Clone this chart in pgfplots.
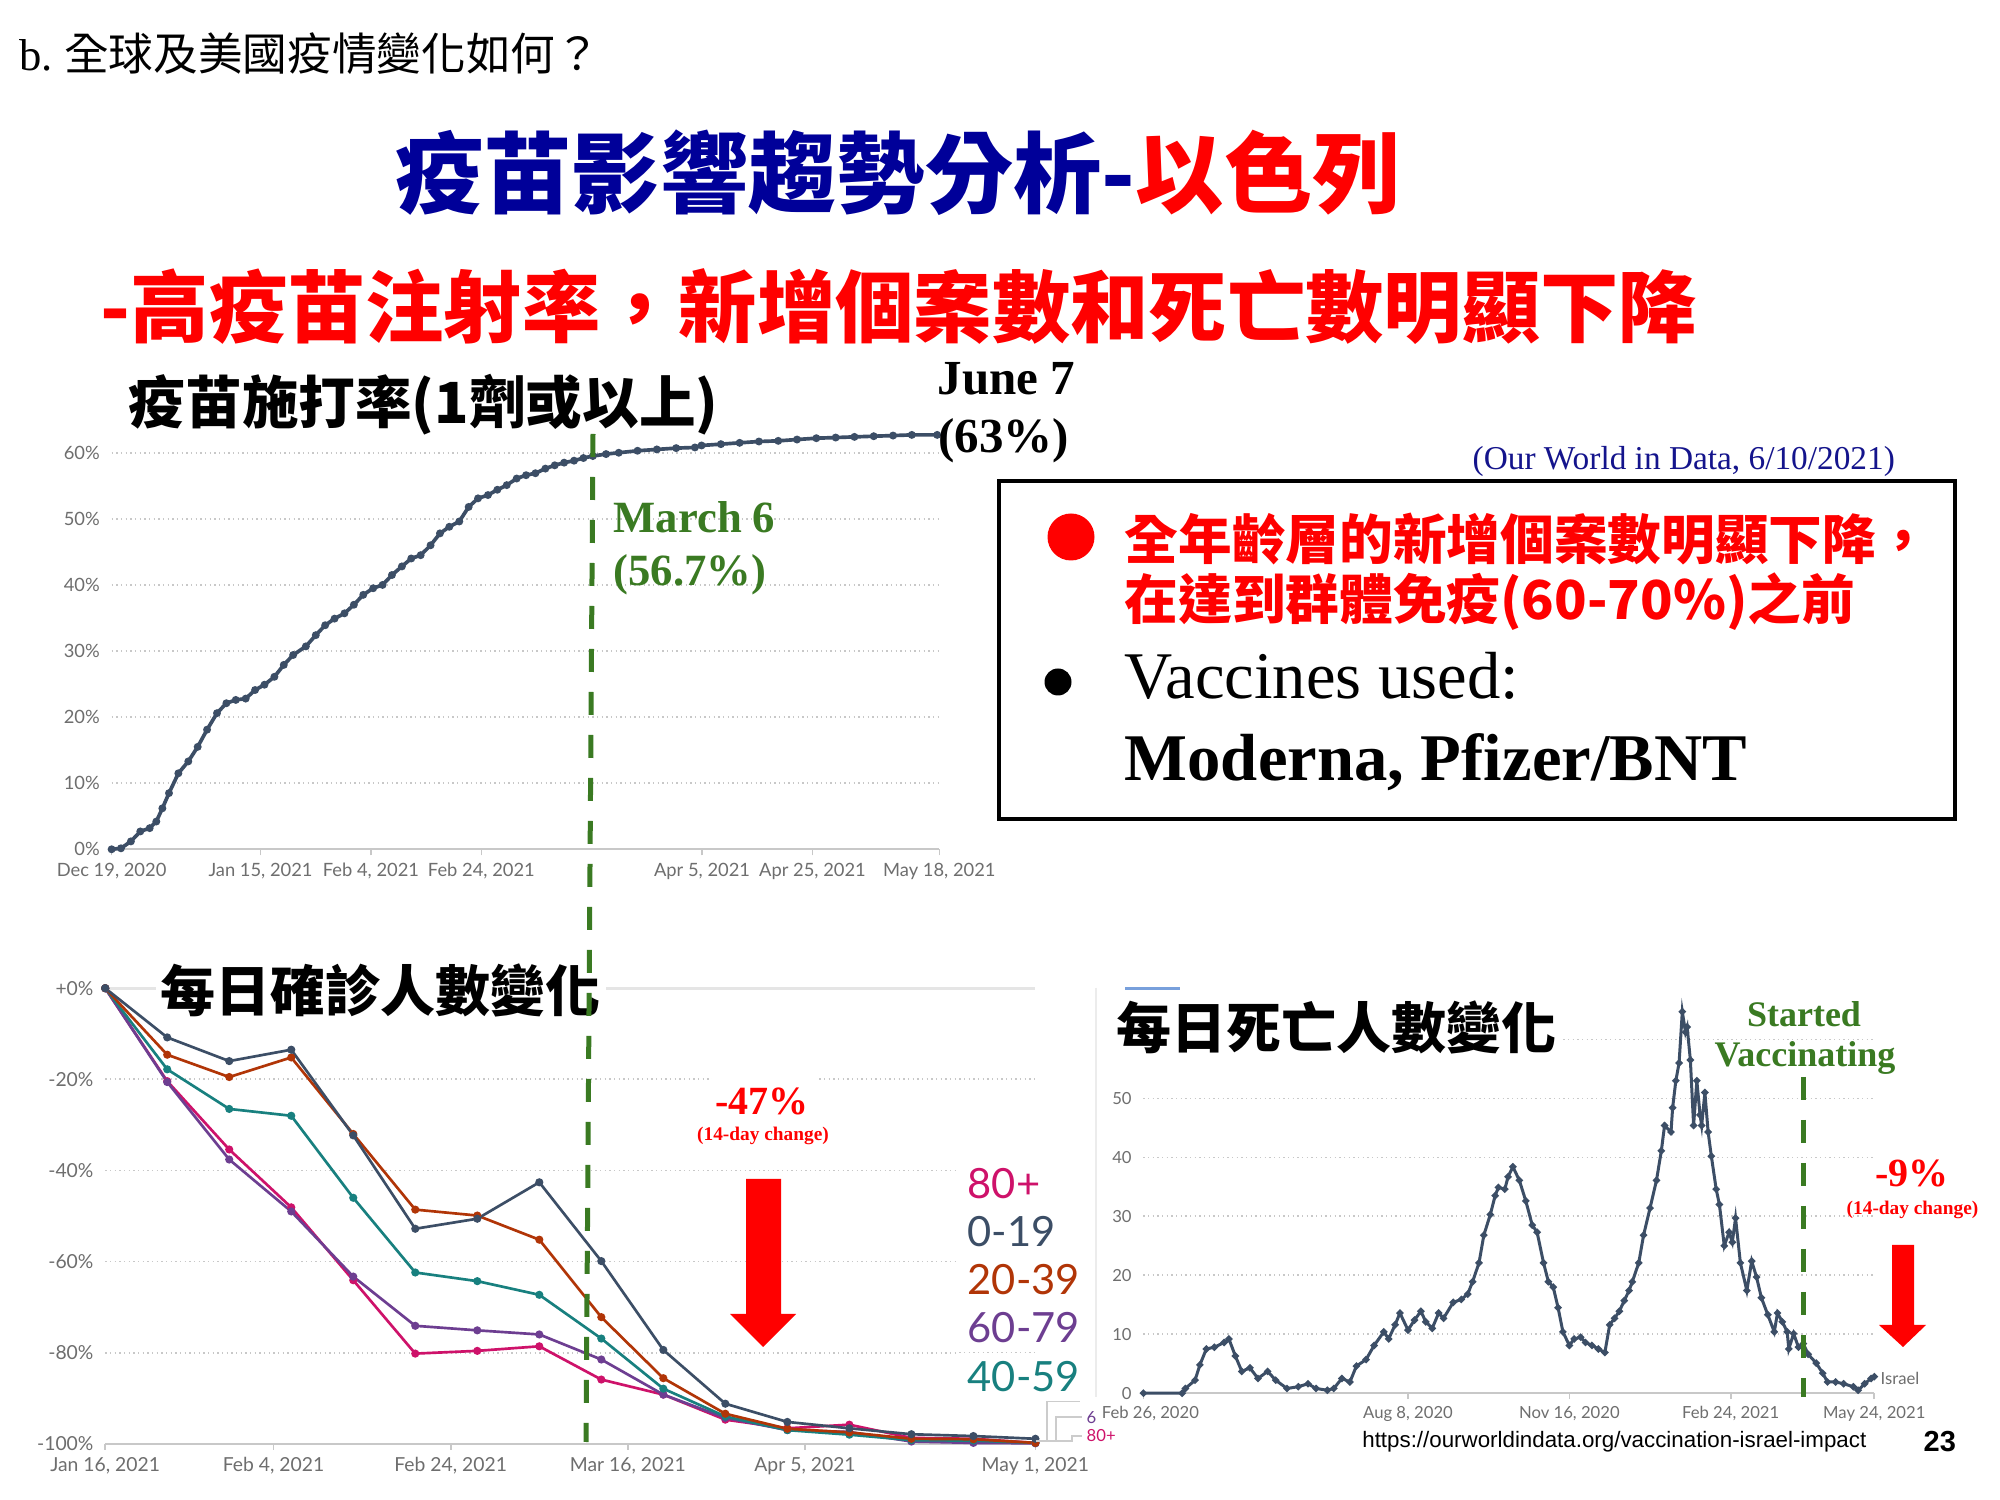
\documentclass[border=0pt]{standalone}
\usepackage{pgfplots}
\pgfplotsset{compat=1.18}
\usepackage{pgfplotstable}
\usepackage{fontspec}
\setmainfont{Liberation Serif}
\newfontfamily\cjk{Noto Sans CJK TC}
\newfontfamily\lato{Lato}
\newfontfamily\arial{Liberation Sans}
\definecolor{slate}{RGB}{60,78,102}
\definecolor{ageA}{RGB}{60,78,102}
\definecolor{ageB}{RGB}{177,53,7}
\definecolor{ageC}{RGB}{24,128,127}
\definecolor{ageD}{RGB}{109,62,145}
\definecolor{ageE}{RGB}{206,18,106}
\definecolor{vgreen}{RGB}{58,122,34}
\definecolor{tblue}{RGB}{0,0,153}
\definecolor{nblue}{RGB}{20,20,140}
\definecolor{lblgray}{RGB}{110,110,110}
\definecolor{gridgray}{RGB}{200,200,200}
\definecolor{legblue}{RGB}{120,160,220}
\pgfplotsset{owid/.style={scale only axis, axis line style={draw=none}, tick pos=left,
  ytick style={draw=none}, xtick style={draw=gridgray, line width=0.5pt}, xtick align=outside,
  major tick length=1.8pt, ymajorgrids, grid style={densely dotted, gridgray, line width=0.5pt},
  clip=false, tick label style={text=lblgray}, xticklabel style={yshift=1.3pt}}}
\pgfplotstableread{
day a019 a2039 a4059 a6079 a80
0 0 0 0 0 0
7 -10.8 -14.6 -17.8 -20.6 -20.4
14 -16 -19.5 -26.5 -37.6 -35.4
21 -13.5 -15.2 -28 -49 -48.1
28 -32.3 -32 -46 -63.3 -64.1
35 -52.8 -48.6 -62.4 -74.1 -80.2
42 -50.6 -49.9 -64.3 -75.1 -79.6
49 -42.6 -55.2 -67.3 -76 -78.6
56 -59.9 -72.2 -76.9 -81.5 -85.9
63 -79.4 -85.6 -87.9 -89.2 -89.2
70 -91.2 -93.4 -94 -94.3 -94.7
77 -95.2 -96.7 -97 -97 -96.6
84 -96.6 -97.5 -98 -97.4 -95.8
91 -97.9 -98.9 -99.2 -99.5 -98.7
98 -98.3 -99 -99.3 -99.8 -98.9
105 -98.9 -99.8 -99.8 -99.9 -99.8
}\agedata
\begin{document}
\begin{tikzpicture}
\fill[white] (0,0) rectangle (600pt,450pt);
% ---------- top chart: vaccination
\begin{axis}[owid, at={(33.48pt,195.21pt)}, anchor=south west, width=248.34pt, height=126.9pt,
  xmin=0, xmax=150, ymin=0, ymax=64,
  xtick={0,27,47,67,107,127,150},
  xticklabels={{Dec 19, 2020},{Jan 15, 2021},{Feb 4, 2021},{Feb 24, 2021},{Apr 5, 2021},{Apr 25, 2021},{May 18, 2021}},
  ytick={0,10,...,60}, yticklabels={0\%,10\%,20\%,30\%,40\%,50\%,60\%},
  tick label style={font=\lato\fontsize{5.5}{6.6}\selectfont}]
\draw[gridgray, line width=0.6pt] (axis cs:0,0) -- (axis cs:150,0);
\addplot[slate, line width=1.1pt, mark=*, mark size=0.6pt] coordinates {
(0,0)(1.7,0.15)(3.5,1.2)(5.2,2.7)(6.9,3.2)(8.1,4.2)(9.2,6.2)(10.4,8.5)(12.1,11.5)(13.9,13.3)
(15.6,15.5)(17.3,18.1)(19.1,20.6)(20.8,22.1)(22.5,22.6)(24.3,22.8)(26,24.1)(27.7,24.9)(29.5,26.1)
(31.2,27.9)(32.9,29.4)(35.2,30.7)(37,32.4)(38.7,33.9)(40.4,34.9)(42.2,35.7)(43.9,37)(45.6,38.5)
(47.4,39.5)(49.1,40)(50.8,41.5)(52.6,42.8)(54.3,44)(56,44.5)(57.8,46)(59.5,47.8)(61.2,48.8)(63,49.6)
(64.7,51.8)(66.4,53.1)(68.2,53.6)(69.9,54.4)(71.6,55.1)(73.4,56.1)(75.1,56.6)(76.8,56.9)(78.6,57.6)
(80.3,58.1)(82,58.5)(83.8,58.8)(85.5,59.2)(87.2,59.5)(89.6,59.8)(91.9,60)(95.3,60.3)(98.8,60.5)
(102.3,60.7)(105.7,60.8)(106.9,61.1)(110.4,61.3)(113.8,61.5)(117.3,61.7)(120.8,61.8)(124.2,62)
(127.7,62.2)(131.2,62.3)(134.6,62.4)(138.1,62.5)(141.6,62.6)(145,62.7)(149.6,62.7)};
\end{axis}
% ---------- bottom left: cases by age
\begin{axis}[owid, at={(31.56pt,16.86pt)}, anchor=south west, width=279.06pt, height=136.68pt,
  xmin=0, xmax=105, ymin=-100, ymax=0,
  xtick={0,19,39,59,79,105},
  xticklabels={{Jan 16, 2021},{Feb 4, 2021},{Feb 24, 2021},{Mar 16, 2021},{Apr 5, 2021},{May 1, 2021}},
  ytick={-100,-80,...,0}, yticklabels={-100\%,-80\%,-60\%,-40\%,-20\%,+0\%},
  tick label style={font=\lato\fontsize{5.8}{7}\selectfont}]
\draw[gridgray, line width=0.6pt] (axis cs:0,-100) -- (axis cs:105,-100);
\draw[gray!20, line width=1pt] (axis cs:0,0) -- (axis cs:105,0);
\addplot[ageE, line width=0.8pt, mark=*, mark size=0.8pt] table[x=day,y=a80] {\agedata};
\addplot[ageD, line width=0.8pt, mark=*, mark size=0.8pt] table[x=day,y=a6079] {\agedata};
\addplot[ageC, line width=0.8pt, mark=*, mark size=0.8pt] table[x=day,y=a4059] {\agedata};
\addplot[ageB, line width=0.8pt, mark=*, mark size=0.8pt] table[x=day,y=a2039] {\agedata};
\addplot[ageA, line width=0.8pt, mark=*, mark size=0.8pt] table[x=day,y=a019] {\agedata};
\end{axis}
% ---------- bottom right: deaths
\begin{axis}[owid, at={(343.02pt,32.04pt)}, anchor=south west, width=219.27pt, height=106.14pt,
  xmin=0, xmax=453, ymin=0, ymax=60,
  xtick={0,164,264,364,453},
  xticklabels={{\hspace*{4.2pt}Feb 26, 2020},{Aug 8, 2020},{Nov 16, 2020},{Feb 24, 2021},{May 24, 2021}},
  ytick={0,10,...,60}, yticklabels={0,10,20,30,40,50,{}},
  tick label style={font=\lato\fontsize{5}{6}\selectfont}]
\draw[gridgray, line width=0.6pt] (axis cs:0,0) -- (axis cs:453,0);
\addplot[slate, line width=0.9pt, mark=*, mark size=0.55pt] coordinates {
(0,0)(24,0)(26,0.8)(32,2.2)(35,4.8)(39,7.5)(44,7.8)(50,8.6)(53,9.2)(57,6.3)(61,3.7)(66,4.3)(71,2.5)
(77,3.7)(82,2.2)(89,0.8)(96,1.1)(102,1.6)(107,0.8)(114,0.5)(118,0.8)(123,2.5)(128,1.9)(132,4.6)
(138,5.7)(143,8.1)(149,10.4)(152,9.2)(156,11.6)(159,13.6)(164,10.7)(168,12.4)(172,13.9)(175,12.1)
(179,11)(183,13.6)(186,12.7)(192,15.4)(197,15.9)(201,16.8)(204,18.9)(208,22.1)(211,26.8)(215,30.3)
(218,33.5)(220,34.9)(224,34.6)(226,36.7)(229,38.4)(233,36.1)(237,32.6)(241,28.5)(244,27.3)(248,22.1)
(251,18.9)(254,18)(257,14.5)(260,10.4)(264,8.1)(267,9.2)(271,9.5)(274,8.6)(278,8.1)(282,7.5)(286,6.9)
(289,11.6)(292,12.7)(295,13.9)(298,15.7)(301,17.4)(303,18.9)(307,22.1)(310,26.8)(314,31.4)(318,36.1)
(321,41.1)(323,45.4)(327,44.3)(328,48.4)(330,53)(332,56)(334,64.7)(336,61.2)(337,62.1)(339,56.5)
(341,45.4)(343,53)(345,47.2)(346,45.4)(348,51)(350,44.3)(352,40.2)(355,34.6)(357,32)(360,25)
(363,27.3)(365,25.6)(367,29.7)(370,22.1)(374,17.4)(377,22.4)(380,19.7)(383,16.2)(387,13.3)(391,10.4)
(393,13.6)(396,12.1)(399,10.4)(400,7.5)(403,10.1)(406,7.8)(409,8.4)(412,6.6)(417,5.1)(421,3.4)
(424,1.9)(429,1.9)(434,1.6)(440,1.1)(443,0.5)(447,1.6)(451,2.5)(453,2.8)};
\end{axis}
% ---------- decorations of the screenshots
\draw[gray!15, line width=0.6pt] (328.8pt,153.6pt) -- (328.8pt,30.9pt);
\draw[legblue, line width=0.9pt] (337.5pt,153.3pt) -- (354pt,153.3pt);
\draw[gray!40, line width=0.4pt] (310.8pt,17.7pt) -| (314.1pt,29.7pt) -- (324pt,29.7pt);
\draw[gray!40, line width=0.4pt] (310.8pt,17.7pt) -| (316.8pt,24.9pt) -- (324.6pt,24.9pt);
\draw[gray!40, line width=0.4pt] (310.8pt,17.7pt) -| (321.6pt,19.2pt) -- (324.6pt,19.2pt);
\node[anchor=west, inner sep=0, text=ageD] at (325.8pt,24.6pt) {\lato\fontsize{5}{6}\selectfont 6};
\node[anchor=west, inner sep=0, text=ageE] at (325.8pt,19.2pt) {\lato\fontsize{5}{6}\selectfont 80+};
\node[anchor=west, inner sep=0, text=lblgray] at (564pt,36.6pt) {\lato\fontsize{5}{6}\selectfont Israel};
% ---------- headings
\node[anchor=west, inner sep=0] at (5.7pt,433.8pt) {\fontsize{13.4}{16}\selectfont b.\ {\cjk 全球及美國疫情變化如何？}};
\node[inner sep=0] at (269.4pt,398.1pt) {\cjk\bfseries\fontsize{26.5}{30}\selectfont\textcolor{tblue}{疫苗影響趨勢分析-}\textcolor{red}{以色列}};
\node[inner sep=0, text=red] at (269.7pt,357.9pt) {\cjk\bfseries\fontsize{23.5}{28}\selectfont -高疫苗注射率，新增個案數和死亡數明顯下降};
% chart titles
\node[anchor=west, inner sep=0] at (38.4pt,328.5pt) {\cjk\bfseries\fontsize{17}{20}\selectfont 疫苗施打率(1劑或以上)};
\node[anchor=west, fill=white, inner sep=1.5pt] at (46.5pt,153pt) {\cjk\bfseries\fontsize{16.5}{20}\selectfont 每日確診人數變化};
\node[anchor=west, fill=white, inner sep=1.5pt] at (333.3pt,141.9pt) {\cjk\bfseries\fontsize{16.5}{20}\selectfont 每日死亡人數變化};
% annotations top
\node[anchor=base west, inner sep=0] at (281.1pt,331.5pt) {\bfseries\fontsize{14.7}{17}\selectfont June 7};
\node[anchor=base west, inner sep=0] at (281.4pt,314.1pt) {\bfseries\fontsize{14.7}{17}\selectfont (63\%)};
\node[anchor=base west, inner sep=0, text=vgreen] at (183.9pt,290.1pt) {\bfseries\fontsize{13.4}{16}\selectfont March 6};
\node[anchor=base west, inner sep=0, text=vgreen] at (183.9pt,274.2pt) {\bfseries\fontsize{13.4}{16}\selectfont (56.7\%)};
\node[anchor=base west, inner sep=0, text=nblue] at (441.6pt,309pt) {\fontsize{10}{12}\selectfont (Our World in Data, 6/10/2021)};
% box
\draw[line width=1.2pt] (299.7pt,204.3pt) rectangle (586.5pt,305.7pt);
\fill[red] (321.3pt,288.9pt) circle (7.05pt);
\fill[black] (317.4pt,245.4pt) circle (4.05pt);
\node[anchor=west, inner sep=0, text=red] at (337.2pt,288.3pt) {\cjk\bfseries\fontsize{16.1}{19}\selectfont 全年齡層的新增個案數明顯下降，};
\node[anchor=west, inner sep=0, text=red] at (337.2pt,269.4pt) {\cjk\bfseries\fontsize{16.1}{19}\selectfont 在達到群體免疫(60-70\%)之前};
\node[anchor=base west, inner sep=0] at (337.2pt,240.3pt) {\fontsize{20}{24}\selectfont Vaccines used:};
\node[anchor=base west, inner sep=0] at (337.2pt,215.7pt) {\bfseries\fontsize{20}{24}\selectfont Moderna, Pfizer/BNT};
% legend labels (cases chart)
\node[anchor=west, fill=white, inner sep=2.5pt, text=ageE] at (287.6pt,94.8pt) {\lato\fontsize{12.5}{14}\selectfont 80+};
\node[anchor=west, fill=white, inner sep=2.5pt, text=ageA] at (287.6pt,80.4pt) {\lato\fontsize{12.5}{14}\selectfont 0-19};
\node[anchor=west, fill=white, inner sep=2.5pt, text=ageB] at (287.6pt,66pt) {\lato\fontsize{12.5}{14}\selectfont 20-39};
\node[anchor=west, fill=white, inner sep=2.5pt, text=ageD] at (287.6pt,51.6pt) {\lato\fontsize{12.5}{14}\selectfont 60-79};
\node[anchor=west, fill=white, inner sep=2.5pt, text=ageC] at (287.6pt,36.9pt) {\lato\fontsize{12.5}{14}\selectfont 40-59};
% -47% annotation
\fill[white] (213.6pt,105pt) rectangle (244.8pt,127.5pt);
\node[inner sep=0, text=red] at (228.6pt,119.7pt) {\bfseries\fontsize{12}{14}\selectfont -47\%};
\node[inner sep=0, text=red] at (228.9pt,109.2pt) {\bfseries\fontsize{5.8}{7}\selectfont (14-day change)};
\fill[red] (223.8pt,96.3pt) -- (234.3pt,96.3pt) -- (234.3pt,55.8pt) -- (238.8pt,55.8pt) -- (228.9pt,45.9pt) -- (219pt,55.8pt) -- (223.8pt,55.8pt) -- cycle;
% deaths annotations
\node[inner sep=0, text=vgreen] at (541.2pt,145.8pt) {\bfseries\fontsize{10.8}{13}\selectfont Started};
\node[inner sep=0, text=vgreen] at (541.5pt,132.6pt) {\bfseries\fontsize{10.8}{13}\selectfont Vaccinating};
\node[inner sep=0, text=red] at (573.6pt,97.95pt) {\bfseries\fontsize{12}{14}\selectfont -9\%};
\node[inner sep=0, text=red] at (573.75pt,87.1pt) {\bfseries\fontsize{5.8}{7}\selectfont (14-day change)};
\fill[red] (567.6pt,76.5pt) -- (574.2pt,76.5pt) -- (574.2pt,52.5pt) -- (577.8pt,52.5pt) -- (570.9pt,45.9pt) -- (563.7pt,52.5pt) -- (567.6pt,52.5pt) -- cycle;
% dashed lines
\draw[vgreen, line width=1.5pt, dash pattern=on 6.9pt off 6pt] (177.9pt,319.8pt) -- (175.8pt,17.4pt);
\draw[vgreen, line width=1.5pt, dash pattern=on 6.9pt off 6pt] (541.05pt,126.9pt) -- (541.05pt,30.9pt);
% footer
\node[anchor=west, inner sep=0] at (408.5pt,17.4pt) {\arial\fontsize{6.7}{8}\selectfont https://ourworldindata.org/vaccination-israel-impact};
\node[anchor=west, inner sep=0] at (576.9pt,17.4pt) {\arial\bfseries\fontsize{8.7}{10}\selectfont 23};
\end{tikzpicture}
\end{document}
